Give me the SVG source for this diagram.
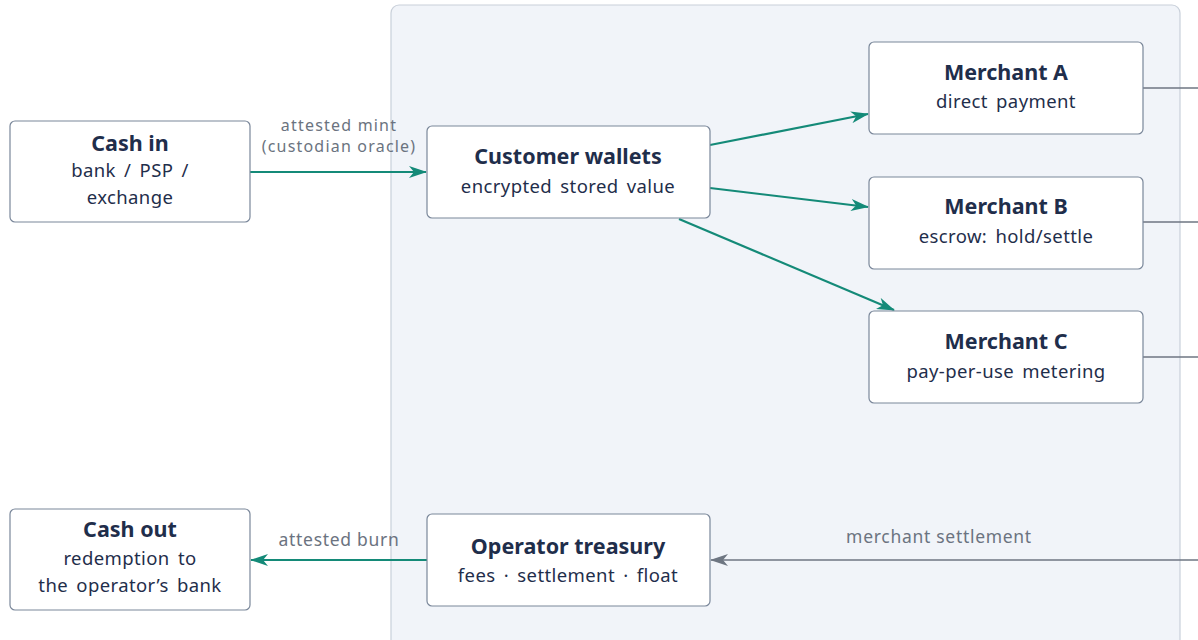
<svg xmlns="http://www.w3.org/2000/svg" width="1198" height="640" viewBox="0 0 1198 640">
<defs>
<style>
.box{fill:#ffffff;stroke:#7a879a;stroke-width:1.2}
.t{font-family:"Noto Sans","Open Sans",sans-serif;font-weight:700;font-size:21.5px;fill:#1f2e4b;text-anchor:middle}
.s{font-family:"Noto Sans","Open Sans",sans-serif;font-size:18.5px;fill:#1f2e4b;text-anchor:middle;word-spacing:3px;letter-spacing:0.4px}
.lbl{font-family:"Noto Sans","Open Sans",sans-serif;font-size:17.5px;fill:#6b7380;text-anchor:middle;letter-spacing:0.7px}
.lbl2{font-size:16px;letter-spacing:1.2px}
.teal{stroke:#148a78;stroke-width:2.2;fill:none}
.grey{stroke:#6e7682;stroke-width:1.6;fill:none}
</style>
<marker id="ah" viewBox="0 0 18 12" refX="17" refY="6" markerWidth="18" markerHeight="12" markerUnits="userSpaceOnUse" orient="auto">
<path d="M0,0 L18,6 L0,12 L5,6 z" fill="#148a78"/>
</marker>
<marker id="ahg" viewBox="0 0 18 12" refX="17" refY="6" markerWidth="18" markerHeight="12" markerUnits="userSpaceOnUse" orient="auto">
<path d="M0,0 L18,6 L0,12 L5,6 z" fill="#6e7682"/>
</marker>
</defs>
<rect x="391" y="5" width="789" height="650" rx="8" fill="#f1f4f9" stroke="#c9d0da" stroke-width="1.2"/>
<g id="connectors">
<line class="teal" x1="250" y1="172" x2="426" y2="172" marker-end="url(#ah)"/>
<line class="teal" x1="710" y1="145" x2="868" y2="114" marker-end="url(#ah)"/>
<line class="teal" x1="710" y1="188" x2="868" y2="207" marker-end="url(#ah)"/>
<line class="teal" x1="679" y1="219" x2="894" y2="310" marker-end="url(#ah)"/>
<line class="teal" x1="427" y1="560" x2="251" y2="560" marker-end="url(#ah)"/>
<line class="grey" x1="1198" y1="560" x2="711" y2="560" marker-end="url(#ahg)"/>
<line class="grey" x1="1143" y1="88" x2="1198" y2="88"/>
<line class="grey" x1="1143" y1="222" x2="1198" y2="222"/>
<line class="grey" x1="1143" y1="357" x2="1198" y2="357"/>
<text class="lbl lbl2" x="339" y="131">attested mint</text>
<text class="lbl lbl2" x="339" y="152">(custodian oracle)</text>
<text class="lbl" x="339" y="546">attested burn</text>
<text class="lbl" x="939" y="543">merchant settlement</text>
</g>
<g id="cash-in">
<rect class="box" x="10" y="121" width="240" height="101" rx="5"/>
<text class="t" x="130" y="151">Cash in</text>
<text class="s" x="130" y="177">bank / PSP /</text>
<text class="s" x="130" y="204">exchange</text>
</g>
<g id="customer-wallets">
<rect class="box" x="427" y="126" width="283" height="92" rx="5"/>
<text class="t" x="568" y="164">Customer wallets</text>
<text class="s" x="568" y="193">encrypted stored value</text>
</g>
<g id="merchant-a">
<rect class="box" x="869" y="42" width="274" height="92" rx="5"/>
<text class="t" x="1006" y="80">Merchant A</text>
<text class="s" x="1006" y="108">direct payment</text>
</g>
<g id="merchant-b">
<rect class="box" x="869" y="177" width="274" height="92" rx="5"/>
<text class="t" x="1006" y="214">Merchant B</text>
<text class="s" x="1006" y="243">escrow:  hold/settle</text>
</g>
<g id="merchant-c">
<rect class="box" x="869" y="311" width="274" height="92" rx="5"/>
<text class="t" x="1006" y="349">Merchant C</text>
<text class="s" x="1006" y="378">pay-per-use metering</text>
</g>
<g id="cash-out">
<rect class="box" x="10" y="509" width="240" height="101" rx="5"/>
<text class="t" x="130" y="537">Cash out</text>
<text class="s" x="130" y="565">redemption to</text>
<text class="s" x="130" y="592">the operator’s bank</text>
</g>
<g id="operator-treasury">
<rect class="box" x="427" y="514" width="283" height="92" rx="5"/>
<text class="t" x="568" y="554">Operator treasury</text>
<text class="s" x="568" y="582">fees · settlement · float</text>
</g>
</svg>
